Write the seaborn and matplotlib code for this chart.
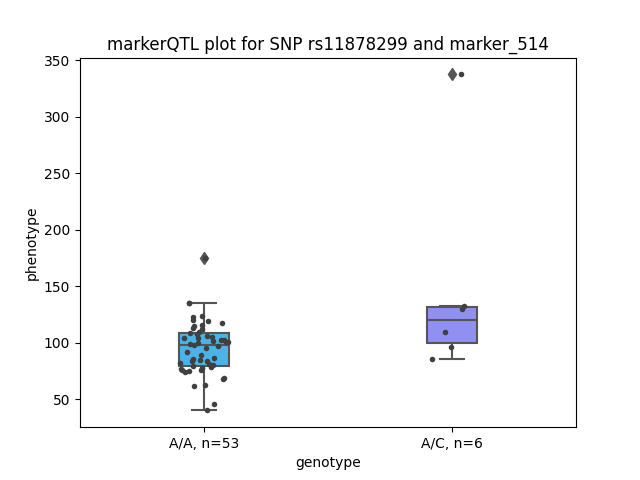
import numpy as np
import pandas as pd
import matplotlib
matplotlib.use("Agg")
import matplotlib.pyplot as plt
import seaborn as sns

# phenotype values per genotype group
aa_values = [40.3, 45.6, 61.5, 63, 68, 69, 74, 75, 76, 76, 77, 78, 79,
             80, 80.5, 81, 82, 83.9, 84, 85, 86, 87, 89, 91.9, 95.7, 96.9,
             98.4, 99.3, 100, 100.7, 100.7, 102, 102.8, 102.8, 104, 104.5,
             105, 106, 107.5, 108.7, 110, 112, 113.5, 114.6, 115.5, 117.5,
             119, 120.5, 122.8, 123.4, 135, 135.2, 175]
ac_values = [86, 96, 110, 130.3, 132.3, 337.6]
genotypes = ["A/A", "A/C"]
box_colors = ["#4ab4e8", "#9090f0"]

labels = [f"{g}, n={len(v)}" for g, v in zip(genotypes, [aa_values, ac_values])]
df = pd.DataFrame({
    "genotype": [labels[0]] * len(aa_values) + [labels[1]] * len(ac_values),
    "phenotype": aa_values + ac_values,
})

np.random.seed(3)
fig, ax = plt.subplots(figsize=(6.4, 4.8), dpi=100)
sns.boxplot(data=df, x="genotype", y="phenotype", hue="genotype",
            palette=box_colors, saturation=1, width=0.2, linecolor="#555555",
            linewidth=1.5, legend=False,
            flierprops=dict(marker="d", markerfacecolor="#555555",
                            markeredgecolor="#555555", markersize=6), ax=ax)
sns.stripplot(data=df, x="genotype", y="phenotype", color=".25", size=4,
              jitter=0.1, ax=ax)

ax.set_title("markerQTL plot for SNP rs11878299 and marker_514")
ax.set_xlabel("genotype")
ax.set_ylabel("phenotype")

plt.savefig("out.png", dpi=100)
plt.close()
